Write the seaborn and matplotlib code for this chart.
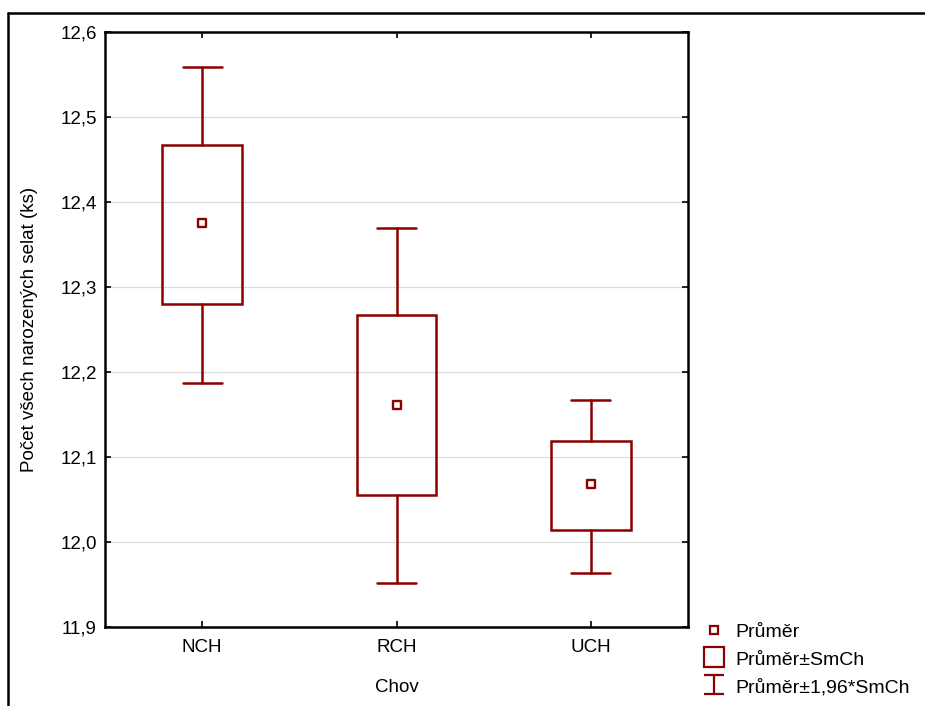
import matplotlib
matplotlib.use("Agg")
import matplotlib.pyplot as plt
import seaborn as sns
import pandas as pd
import numpy as np
from matplotlib.lines import Line2D
from matplotlib.patches import Rectangle
from matplotlib.ticker import FuncFormatter, MultipleLocator

categories = ["NCH", "RCH", "UCH"]
means = [12.375, 12.161, 12.068]
se_low = [12.280, 12.055, 12.014]
se_high = [12.467, 12.267, 12.119]
ci_low = [12.187, 11.952, 11.964]
ci_high = [12.559, 12.369, 12.167]

RED = "#8b0000"
FS = 13.5

sns.set_theme(style="white")
plt.rcParams["font.family"] = ["Liberation Sans", "DejaVu Sans"]
plt.rcParams["text.color"] = "black"
plt.rcParams["axes.labelcolor"] = "black"

fig = plt.figure(figsize=(9.25, 7.06), dpi=100)
ax = fig.add_axes([105/925, 1-627/706, (688-105)/925, (627-32)/706])

df = pd.DataFrame({"Chov": categories, "mean": means})
x = np.arange(len(categories))

box_w = 0.41
cap_w = 0.2
for i in range(len(categories)):
    ax.add_patch(Rectangle((x[i]-box_w/2, se_low[i]), box_w, se_high[i]-se_low[i],
                           fill=False, edgecolor=RED, lw=1.8, zorder=3))
    ax.plot([x[i], x[i]], [se_high[i], ci_high[i]], color=RED, lw=1.8, zorder=3)
    ax.plot([x[i], x[i]], [ci_low[i], se_low[i]], color=RED, lw=1.8, zorder=3)
    ax.plot([x[i]-cap_w/2, x[i]+cap_w/2], [ci_high[i]]*2, color=RED, lw=1.8, zorder=3)
    ax.plot([x[i]-cap_w/2, x[i]+cap_w/2], [ci_low[i]]*2, color=RED, lw=1.8, zorder=3)

sns.scatterplot(data=df, x="Chov", y="mean", ax=ax, marker="s", s=32,
                facecolor="white", edgecolor=RED, linewidth=1.7, zorder=4, legend=False)

ax.set_xlim(-0.5, 2.5)
ax.set_ylim(11.9, 12.6)
ax.yaxis.set_major_locator(MultipleLocator(0.1))
ax.yaxis.set_major_formatter(FuncFormatter(lambda v, p: f"{v:.1f}".replace(".", ",")))
ax.set_xticks(x)
ax.set_xticklabels(categories)
ax.grid(axis="y", color="#dcdcdc", lw=0.9)
ax.set_axisbelow(True)
for s in ax.spines.values():
    s.set_visible(True)
    s.set_color("black")
    s.set_linewidth(1.8)
ax.tick_params(axis="both", which="both", direction="in", length=4, width=1.2,
               color="black", top=True, right=True, left=True, bottom=True,
               labelsize=FS, colors="black")
ax.tick_params(axis="x", pad=9)
ax.tick_params(axis="y", pad=6)
ax.set_xlabel("Chov", fontsize=FS, labelpad=16)
ax.set_ylabel("Počet všech narozených selat (ks)", fontsize=FS, labelpad=16)

# legend
h1 = Line2D([], [], marker="s", ms=5.5, mfc="white", mec=RED, mew=1.6, ls="none")
h2 = Line2D([], [], marker="s", ms=14, mfc="white", mec=RED, mew=1.6, ls="none")
eb = ax.errorbar([np.nan], [np.nan], yerr=[[1.0], [1.0]], fmt="none", ecolor=RED,
                 elinewidth=1.6, capsize=7, capthick=1.6)
fig.legend([h1, h2, eb], ["Průměr", "Průměr±SmCh", "Průměr±1,96*SmCh"],
           loc="upper left", bbox_to_anchor=(703/925, 1-622/706), frameon=False,
           fontsize=14, handlelength=1.1, handletextpad=0.55, labelspacing=0.42,
           borderpad=0, borderaxespad=0, handleheight=1.0)

# outer frame
fig.add_artist(Line2D([8/925, 1.0], [1-13/706, 1-13/706], transform=fig.transFigure, color="black", lw=1.8))
fig.add_artist(Line2D([8/925, 8/925], [0, 1-13/706], transform=fig.transFigure, color="black", lw=1.8))

fig.savefig("out.png", dpi=100)
